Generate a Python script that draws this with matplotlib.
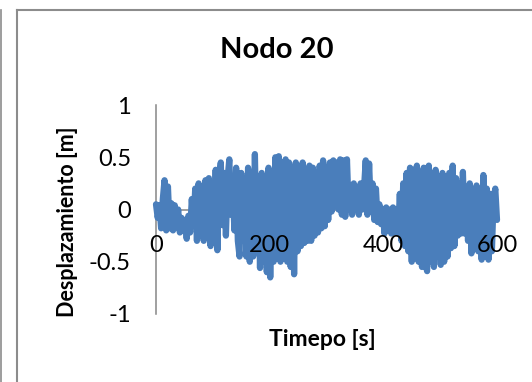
import numpy as np
import matplotlib
matplotlib.use('Agg')
import matplotlib.pyplot as plt
from matplotlib.lines import Line2D

# desplazamiento del nodo 20, un valor cada 3 s (0 ... 600 s)
desplazamiento = [
    0.05, -0.08, 0.04, -0.18, 0.1, 0.28, -0.2, 0.22, -0.18, 0.06,
    -0.2, 0.04, -0.17, 0.0, -0.22, -0.08, -0.2, -0.1, -0.28, -0.06,
    -0.22, 0.1, -0.15, 0.2, -0.3, 0.25, -0.25, 0.18, -0.3, 0.28,
    -0.25, 0.3, -0.35, 0.25, -0.2, 0.38, -0.39, 0.3, 0.45, -0.15,
    0.35, -0.25, 0.3, 0.48, -0.05, 0.2, -0.2, 0.4, -0.3, -0.45,
    0.35, -0.3, 0.3, -0.45, 0.4, -0.5, 0.35, -0.45, 0.53, -0.4,
    0.3, -0.56, 0.35, -0.5, 0.3, -0.6, 0.4, -0.65, 0.3, -0.5,
    0.5, -0.45, 0.51, -0.5, 0.45, -0.4, 0.48, -0.5, 0.45, -0.55,
    0.4, -0.62, 0.45, -0.4, 0.4, -0.35, 0.45, -0.32, 0.3, -0.3,
    0.42, -0.3, 0.4, -0.25, 0.35, -0.22, 0.42, -0.18, 0.47, -0.16,
    0.4, -0.1, 0.45, -0.02, 0.47, 0.05, 0.45, 0.0, 0.48, -0.05,
    0.47, -0.07, 0.48, 0.0, 0.22, -0.05, 0.25, 0.0, 0.2, -0.05,
    0.25, 0.0, 0.2, 0.47, -0.05, 0.44, 0.0, 0.25, -0.1, 0.2,
    -0.12, 0.05, -0.14, 0.0, -0.23, 0.02, -0.2, 0.0, -0.23, 0.02,
    -0.22, 0.0, -0.23, 0.15, -0.3, 0.25, -0.35, 0.35, -0.4, 0.4,
    -0.5, 0.38, -0.45, 0.42, -0.5, 0.35, -0.55, 0.4, -0.5, -0.59,
    0.42, -0.5, 0.35, -0.55, 0.38, -0.45, 0.3, -0.53, 0.35, -0.5,
    0.3, -0.45, 0.35, -0.37, 0.42, -0.35, 0.3, -0.25, 0.25, -0.23,
    0.36, -0.23, 0.2, -0.3, 0.25, -0.42, 0.15, -0.35, 0.23, -0.4,
    0.15, -0.48, 0.33, -0.35, 0.2, -0.48, 0.15, -0.4, 0.1, 0.2,
    -0.1,
]
tiempo = np.linspace(0, 600, len(desplazamiento))

x_ticks = [0, 200, 400, 600]
y_ticks = [-1, -0.5, 0, 0.5, 1]
y_ticklabels = ['-1', '-0.5', '0', '0.5', '1']

plt.rcParams['font.family'] = ['Lato', 'DejaVu Sans']

W, H = 532, 382
fig = plt.figure(figsize=(W / 100, H / 100), dpi=100)
ax = fig.add_axes([156 / W, 1 - 314 / H, (497 - 156) / W, (314 - 105) / H])

ax.plot(tiempo, desplazamiento, color='#4a7ebb', lw=4.5, solid_joinstyle='round',
        solid_capstyle='round', clip_on=False, zorder=2)

ax.set_xlim(0, 600)
ax.set_ylim(-1, 1)
ax.set_xticks(x_ticks)
ax.set_yticks(y_ticks)
ax.set_yticklabels(y_ticklabels)
ax.set_axisbelow(False)  # etiquetas encima de la serie
ax.tick_params(axis='both', length=0, labelsize=17, colors='black')
ax.tick_params(axis='y', pad=18)
ax.tick_params(axis='x', pad=18)

for s in ['top', 'right']:
    ax.spines[s].set_visible(False)
ax.spines['left'].set_position(('data', 0))
ax.spines['bottom'].set_position(('data', 0))
for s in ['left', 'bottom']:
    ax.spines[s].set_color('#868686')
    ax.spines[s].set_linewidth(1.1)
    ax.spines[s].set_zorder(1)

fig.text(277 / W, 1 - 50 / H, 'Nodo 20', ha='center', va='center',
         fontsize=21, fontweight='bold')
fig.text(68 / W, 1 - 222 / H, 'Desplazamiento [m]', ha='center', va='center',
         rotation=90, fontsize=15.5, fontweight='bold')
fig.text(322 / W, 1 - 339 / H, 'Timepo [s]', ha='center', va='center',
         fontsize=16.5, fontweight='bold')

# marco del grafico
borde = '#8c8c8c'
fig.add_artist(Line2D([16.5 / W, 16.5 / W], [0, 1 - 9.5 / H], color=borde, lw=1.5))
fig.add_artist(Line2D([16.5 / W, 1], [1 - 9.5 / H, 1 - 9.5 / H], color=borde, lw=1.5))
fig.add_artist(Line2D([0.8 / W, 0.8 / W], [0, 1 - 10 / H], color=borde, lw=1.2))

fig.savefig('out.png', dpi=100)
